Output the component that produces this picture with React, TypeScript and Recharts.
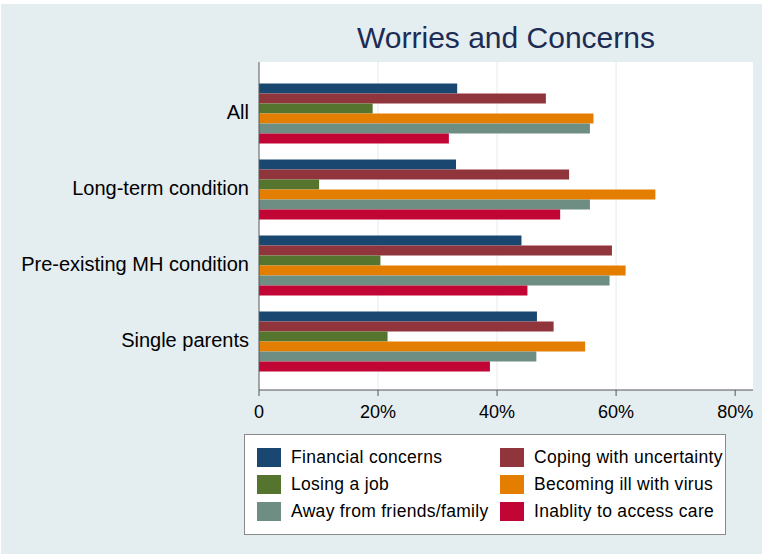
import React from 'react';
import { BarChart, Bar, XAxis, YAxis, CartesianGrid, Legend } from 'recharts';

const categories = ['All', 'Long-term condition', 'Pre-existing MH condition', 'Single parents'];
const financialConcerns = [33.3, 33.1, 44.1, 46.7];
const copingUncertainty = [48.2, 52.1, 59.3, 49.5];
const losingJob = [19.1, 10.1, 20.4, 21.6];
const becomingIll = [56.2, 66.6, 61.6, 54.8];
const awayFromFamily = [55.6, 55.6, 58.9, 46.6];
const inabilityCare = [31.9, 50.6, 45.1, 38.8];
const xTicks = [0, 20, 40, 60, 80];
const gridValues = [20, 40, 60];

const series = [
  { key: 'financial', name: 'Financial concerns', color: '#1a476f', values: financialConcerns },
  { key: 'coping', name: 'Coping with uncertainty', color: '#90353b', values: copingUncertainty },
  { key: 'losing', name: 'Losing a job', color: '#55752f', values: losingJob },
  { key: 'ill', name: 'Becoming ill with virus', color: '#e37e00', values: becomingIll },
  { key: 'away', name: 'Away from friends/family', color: '#6e8e84', values: awayFromFamily },
  { key: 'care', name: 'Inablity to access care', color: '#c10534', values: inabilityCare },
];

const data = categories.map((group, i) => {
  const row: Record<string, string | number> = { group };
  series.forEach(s => { row[s.key] = s.values[i]; });
  return row;
});

const FONT = '"Liberation Sans", Arial, Helvetica, sans-serif';

// two-column boxed legend, row-major in series order (recharts sorts its payload, so use series directly)
function renderLegend() {
  return (
    <div
      style={{
        boxSizing: 'border-box',
        width: 482,
        height: 101,
        background: '#fff',
        border: '1px solid #8a8a8a',
        padding: '13px 0 0 12px',
        display: 'grid',
        gridTemplateColumns: '243px auto',
        gridAutoRows: '27px',
        fontFamily: FONT,
        fontSize: 17.5,
        color: '#000',
      }}
    >
      {series.map(s => (
        <div key={s.key} style={{ display: 'flex', alignItems: 'flex-start', height: 27 }}>
          <span style={{ width: 24, height: 19, background: s.color, flex: 'none' }} />
          <span style={{ marginLeft: 10, lineHeight: '19px', whiteSpace: 'nowrap', letterSpacing: 0.3 }}>{s.name}</span>
        </div>
      ))}
    </div>
  );
}

export default function App() {
  return (
    <div style={{ position: 'absolute', left: 0, top: 0, width: 762, height: 554, background: '#fff', overflow: 'hidden' }}>
      <div style={{ position: 'absolute', left: 1, top: 4, right: 0, bottom: 0, background: '#e4edf0' }} />
      <div
        style={{
          position: 'absolute',
          left: 259,
          width: 494,
          top: 23,
          textAlign: 'center',
          fontFamily: FONT,
          fontSize: 30,
          lineHeight: '30px',
          color: '#1c2c55',
        }}
      >
        Worries and Concerns
      </div>
      <div style={{ position: 'absolute', left: 0, top: 0 }}>
        <BarChart
          width={762}
          height={554}
          data={data}
          layout="vertical"
          margin={{ top: 62, right: 9, bottom: 134, left: 0 }}
          barCategoryGap={9.5}
          barGap={0}
          style={{ fontFamily: FONT }}
        >
          <CartesianGrid
            horizontal={false}
            verticalValues={gridValues}
            stroke="#e2ebee"
            strokeWidth={1}
            fill="#fff"
          />
          <XAxis
            type="number"
            domain={[0, 83]}
            ticks={xTicks}
            allowDataOverflow
            height={30}
            tickFormatter={(v: number) => (v === 0 ? '0' : `${v}%`)}
            axisLine={{ stroke: '#555' }}
            tickLine={{ stroke: '#555' }}
            tickSize={6}
            tickMargin={9}
            tick={{ fontSize: 18, fill: '#000' }}
          />
          <YAxis
            type="category"
            dataKey="group"
            width={259}
            padding={{ top: 12, bottom: 12 }}
            axisLine={{ stroke: '#555' }}
            tickLine={false}
            tickSize={6}
            tickMargin={4}
            tick={{ fontSize: 20, fill: '#000' }}
          />
          {series.map(s => (
            <Bar key={s.key} dataKey={s.key} name={s.name} fill={s.color} isAnimationActive={false} />
          ))}
          <Legend
            layout="vertical"
            align="center"
            verticalAlign="middle"
            content={renderLegend}
            wrapperStyle={{ left: 244, top: 434, width: 482, height: 101 }}
          />
        </BarChart>
      </div>
    </div>
  );
}
